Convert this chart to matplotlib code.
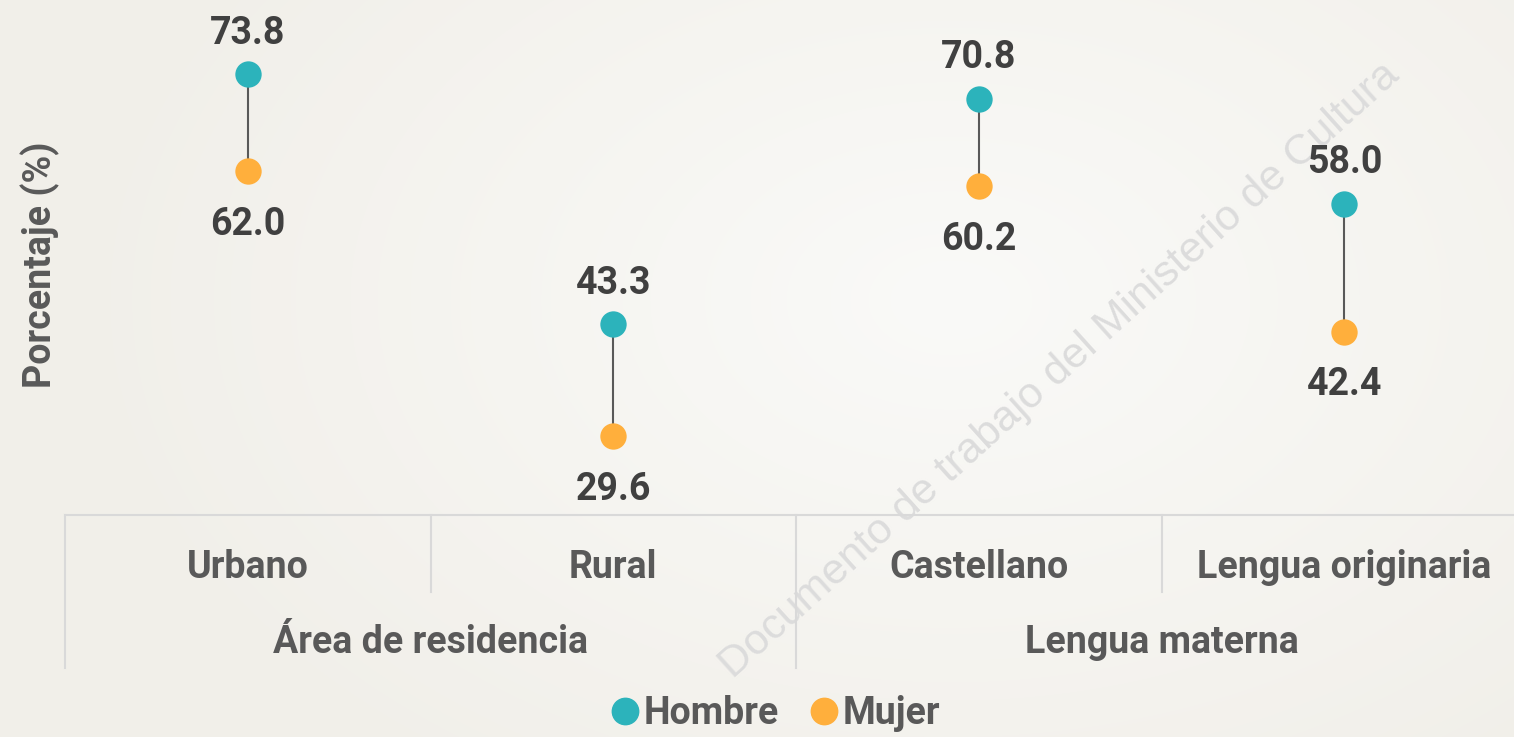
import numpy as np
import matplotlib
matplotlib.use('Agg')
import matplotlib.pyplot as plt
from matplotlib.lines import Line2D

# datos
categorias = ['Urbano', 'Rural', 'Castellano', 'Lengua originaria']
grupos = ['Área de residencia', 'Lengua materna']
hombre = [73.8, 43.3, 70.8, 58.0]
mujer = [62.0, 29.6, 60.2, 42.4]

C_HOMBRE = '#2cb3bb'
C_MUJER = '#ffaf3c'
C_VALOR = '#404040'
C_TEXTO = '#595959'
C_EJE = '#d9d9d9'

plt.rcParams['font.family'] = ['Roboto', 'Liberation Sans', 'DejaVu Sans']
plt.rcParams['font.weight'] = 'bold'
FS = 27

W, H = 1514, 737
fig = plt.figure(figsize=(W / 100, H / 100), dpi=100)

# fondo con degradado suave
bg = fig.add_axes([0, 0, 1, 1], zorder=-10)
yy, xx = np.mgrid[0:H, 0:W]
r = np.sqrt(((xx - 950) / 900.0) ** 2 + ((yy - 300) / 600.0) ** 2)
r = np.clip(r, 0, 1)
c0 = np.array([250, 250, 248]) / 255
c1 = np.array([241, 239, 233]) / 255
img = c0[None, None, :] * (1 - r[..., None]) + c1[None, None, :] * r[..., None]
bg.imshow(img, aspect='auto', extent=[0, 1, 0, 1])
bg.axis('off')

# marca de agua
fig.text(1060 / W, 1 - 370 / H, 'Documento de trabajo del Ministerio de Cultura',
         rotation=42, fontsize=31, color='#dcdcdc', ha='center', va='center',
         fontweight='normal', family=['Liberation Sans', 'DejaVu Sans'], zorder=-5)

ax = fig.add_axes([65 / W, 1 - 515 / H, 1462 / W, 515 / H])
ax.patch.set_alpha(0)
x = np.arange(len(categorias)) + 0.5
ax.set_xlim(0, len(categorias))
ax.set_ylim(20, 20 + 515 / 8.19)

for xi, h, m in zip(x, hombre, mujer):
    ax.plot([xi, xi], [m, h], color=C_TEXTO, lw=1.5, zorder=1)
ax.scatter(x, hombre, s=360, color=C_HOMBRE, zorder=3, linewidths=0)
ax.scatter(x, mujer, s=360, color=C_MUJER, zorder=3, linewidths=0)

for xi, h, m in zip(x, hombre, mujer):
    ax.annotate(f'{h:.1f}', (xi, h), xytext=(0, 22), textcoords='offset points',
                ha='center', va='baseline', fontsize=FS, color=C_VALOR)
    ax.annotate(f'{m:.1f}', (xi, m), xytext=(0, -46), textcoords='offset points',
                ha='center', va='baseline', fontsize=FS, color=C_VALOR)

for s in ['top', 'right', 'left']:
    ax.spines[s].set_visible(False)
ax.spines['bottom'].set_color(C_EJE)
ax.spines['bottom'].set_linewidth(1.5)
ax.set_xticks([])
ax.set_yticks([])

# ejes de categorias agrupadas
trans = ax.get_xaxis_transform()
for i in range(len(categorias)):
    largo = -0.297 if i % 2 == 0 else -0.150
    ax.add_line(Line2D([i, i], [0, largo], transform=trans, color=C_EJE, lw=1.5, clip_on=False))
    ax.text(x[i], -0.101, categorias[i], transform=trans, ha='center', va='center',
            fontsize=FS, color=C_TEXTO)
for j, g in enumerate(grupos):
    ax.text(2 * j + 1, -0.2485, g, transform=trans, ha='center', va='center',
            fontsize=FS, color=C_TEXTO)

fig.text(40 / W, 1 - 265 / H, 'Porcentaje (%)', rotation=90, ha='center', va='center',
         fontsize=FS, color=C_TEXTO)

handles = [Line2D([], [], marker='o', ls='', markersize=19, color=C_HOMBRE, label='Hombre'),
           Line2D([], [], marker='o', ls='', markersize=19, color=C_MUJER, label='Mujer')]
leg = fig.legend(handles=handles, loc='center', bbox_to_anchor=(773 / W, 1 - 714 / H),
                 ncol=2, frameon=False, fontsize=FS, handletextpad=0.0,
                 columnspacing=0.7, handlelength=1.0, borderpad=0)
for t in leg.get_texts():
    t.set_color(C_TEXTO)

fig.savefig('out.png', dpi=100)
